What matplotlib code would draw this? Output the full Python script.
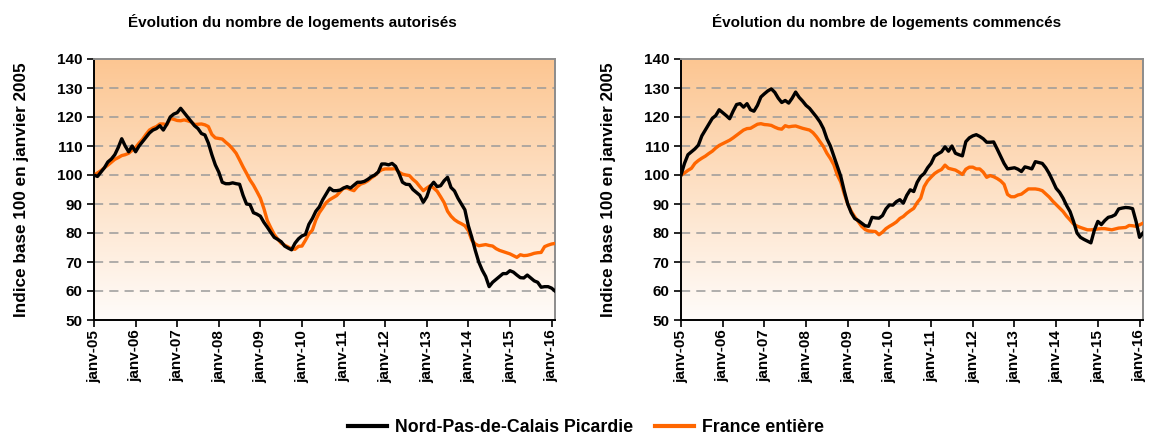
import numpy as np
import matplotlib.pyplot as plt
from matplotlib.lines import Line2D

plt.rcParams['font.family'] = ['Liberation Sans', 'DejaVu Sans']
plt.rcParams['font.weight'] = 'bold'

# Indices mensuels, base 100 = janvier 2005 (janv-05 .. fév-16)
years = ['05', '06', '07', '08', '09', '10', '11', '12', '13', '14', '15', '16']
tick_labels = ['janv-' + y for y in years]

aut_region = [
    100, 99.5, 101, 102.5, 104.5, 105.5, 107, 109.5, 112.5, 110, 108, 110,
    108, 110, 111.5, 113, 114.5, 115.5, 116, 117, 115.5, 117.5, 120, 121,
    121.5, 123, 121.5, 120, 118.5, 117, 116, 114.3, 113.8, 111, 107, 103.5,
    101, 97.5, 97, 97, 97.3, 97, 96.8, 93, 90, 89.8, 87, 86.5,
    85.8, 83.7, 82, 80.2, 78.5, 77.8, 77, 75.5, 74.8, 74.2, 76.5, 78,
    79, 79.5, 83, 85, 87.5, 89, 91.5, 93.5, 95.5, 94.6, 94.6, 94.8,
    95.5, 96, 95.5, 96.5, 97.5, 97.5, 97.8, 98.5, 99.4, 100, 101, 103.8,
    103.8, 103.5, 104, 103, 100.5, 97.5, 96.8, 96.7, 95, 94, 93, 90.6,
    92.5, 96, 97.5, 96, 96.3, 98, 99.2, 95.7, 94.5, 92, 90, 88,
    82.5, 78.5, 74, 70, 67.2, 65, 61.5, 63, 64, 65, 66, 66,
    67, 66.5, 65.5, 64.6, 64.5, 65.5, 64.5, 63.5, 63, 61.3, 61.5, 61.5,
    61, 60,
]
aut_france = [
    100, 100.7, 101.5, 102.5, 103.4, 104.4, 105.4, 106, 106.7, 107, 107.5, 108.5,
    109.5, 111, 112.3, 114, 115.5, 116.2, 116.7, 117.6, 117.6, 117.3, 119.5, 119.2,
    118.8, 118.7, 119, 118.7, 118.3, 117.4, 117.5, 117.6, 117.3, 116.7, 114, 112.8,
    112.6, 112.4, 111.3, 110.3, 109, 107.5, 105.2, 102.8, 100.6, 98.3, 96.5, 94.3,
    92, 88.5, 84.3, 81.8, 79.5, 77.9, 76.5, 75.8, 75.2, 74.5, 74.4, 75.4,
    75.5, 77.5, 79.7, 81, 84.5, 87, 88.7, 90.5, 91.5, 92.2, 92.9, 94.2,
    95.5, 95.5, 95, 94.6, 96, 96.9, 97.3, 98, 99, 99.8, 101, 101.8,
    102.1, 102.1, 102.1, 102.2, 101, 100.3, 100, 99.8, 98.5, 97.5, 96, 94.6,
    95.5, 96.3, 95.5, 94.4, 92.5, 90.5, 87.5, 85.8, 84.6, 83.8, 83.2, 82.5,
    80.8, 77.5, 76.2, 75.6, 75.8, 76, 75.7, 75.5, 74.6, 74, 73.6, 73.2,
    72.8, 72.2, 71.6, 72.5, 72.2, 72.3, 72.6, 73, 73.2, 73.3, 75.3, 75.8,
    76.2, 76.4,
]
com_region = [
    100, 104, 107, 108, 109, 110.3, 113.5, 115.5, 117.5, 119.5, 120.5, 122.5,
    121.5, 120.5, 119.4, 122, 124.3, 124.6, 123.4, 124.6, 122.5, 122, 124, 126.9,
    128, 129, 129.7, 128.5, 126.5, 125, 125.7, 124.8, 126.5, 128.6, 126.8, 125.5,
    124, 123, 121.5, 120, 118.3, 116, 112.5, 110, 106.5, 103, 99.5, 94.5,
    90, 87, 85, 84.3, 83.4, 82.5, 82.3, 85.4, 85.2, 85.1, 86, 88.3,
    89.7, 89.6, 90.8, 91.5, 90.3, 93, 94.9, 94.3, 97.5, 99.5, 100.5, 102.5,
    104, 106.5, 107.3, 108, 109.7, 108.2, 110, 107.5, 107, 106.6, 111.5, 112.8,
    113.5, 113.9, 113.3, 112.5, 111.3, 111.3, 111.4, 109, 106.5, 104, 102.1, 102.3,
    102.5, 102, 101.2, 102.8, 102.5, 102.1, 104.6, 104.3, 104, 102.5, 100.5, 98,
    95.4, 94, 92, 89.5, 87.4, 84, 80, 78.5, 77.8, 77.2, 76.6, 81,
    84, 82.9, 84.3, 85.4, 85.7, 86.3, 88.3, 88.6, 88.8, 88.7, 88.4, 84,
    78.5, 80,
]
com_france = [
    100, 100.7, 101.6, 102.3, 104, 105, 105.8, 106.5, 107.4, 108.2, 109.3, 110.2,
    110.8, 111.4, 112, 112.8, 113.7, 114.6, 115.5, 116, 116.1, 116.8, 117.5, 117.7,
    117.4, 117.3, 117.1, 116.5, 116, 115.8, 117, 116.6, 116.8, 116.9, 116.5, 116.1,
    115.8, 115.5, 114.6, 113.2, 111.5, 109.8, 107.5, 105.7, 103.5, 100, 97.6, 93.5,
    90, 87.5, 85.6, 84, 82.3, 81.2, 80.7, 80.6, 80.5, 79.4, 80.3, 81.5,
    82.3, 83, 83.8, 85, 85.7, 86.8, 87.7, 88.5, 90.5, 92, 96, 98,
    99.3, 100.5, 101.3, 101.9, 103.4, 102.3, 102, 101.7, 101, 100.2, 102, 102.7,
    102.7, 102.1, 102.1, 101, 99.2, 99.8, 99.4, 98.8, 98, 96.8, 93.3, 92.5,
    92.5, 93.1, 93.4, 94.3, 95.2, 95.2, 95.2, 95, 94.6, 93.5, 92.4, 91,
    89.8, 88.6, 87.4, 85.8, 84.5, 83.1, 82.4, 81.9, 81.5, 81.1, 81.1, 81.2,
    81.4, 81.5, 81.5, 81.3, 81.1, 81.4, 81.7, 81.8, 81.9, 82.6, 82.5, 82.3,
    82.8, 83.4,
]

titles = ['Évolution du nombre de logements autorisés',
          'Évolution du nombre de logements commencés']
ylabel = 'Indice base 100 en janvier 2005'
legend_names = ['Nord-Pas-de-Calais Picardie', 'France entière']

BLACK = '#000000'
ORANGE = '#FF6600'


def draw_panel(ax, region, france, title_x, title):
    n = len(region)
    x = np.arange(n)
    xmax = n - 1
    # fond dégradé orange -> blanc
    top = np.array([252, 198, 146]) / 255
    bot = np.array([255, 252, 250]) / 255
    t = np.linspace(0, 1, 256)[:, None]
    grad = (top * (1 - t) + bot * t)[:, None, :]
    ax.imshow(grad, extent=[0, xmax, 50, 140], aspect='auto', zorder=0)

    for yv in range(60, 140, 10):
        ax.axhline(yv, color='#9a9a9a', lw=1.1, ls=(0, (6, 4)), zorder=1)

    ax.plot(x, france, color=ORANGE, lw=2.4, zorder=3)
    ax.plot(x, region, color=BLACK, lw=2.4, zorder=4)

    ax.set_xlim(0, xmax)
    ax.set_ylim(50, 140)
    ax.set_yticks(range(50, 141, 10))
    ax.set_xticks(np.arange(0, n, 12))
    ax.set_xticklabels(tick_labels, rotation=90, fontsize=11, fontweight='bold')
    ax.tick_params(axis='y', labelsize=11, length=5, width=1.2, direction='out')
    ax.tick_params(axis='x', length=5, width=1.2, direction='out', pad=2)
    for lab in ax.get_yticklabels():
        lab.set_fontweight('bold')
    ax.set_ylabel(ylabel, fontsize=12.3, fontweight='bold', labelpad=20)

    ax.spines['left'].set_color('black')
    ax.spines['bottom'].set_color('black')
    ax.spines['top'].set_color('#8c8c8c')
    ax.spines['right'].set_color('#8c8c8c')
    for s in ax.spines.values():
        s.set_linewidth(1.4)

    fig.text(title_x, 1 - 22 / 437, title, ha='center', va='center',
             fontsize=11, fontweight='bold')


fig = plt.figure(figsize=(11.51, 4.37), dpi=100)
W, H = 1151, 437
ax1 = fig.add_axes([94 / W, 1 - 320 / H, 461 / W, 261 / H])
ax2 = fig.add_axes([681 / W, 1 - 320 / H, 462 / W, 261 / H])

draw_panel(ax1, aut_region, aut_france, 292 / W, titles[0])
draw_panel(ax2, com_region, com_france, 887 / W, titles[1])

handles = [Line2D([], [], color=BLACK, lw=3), Line2D([], [], color=ORANGE, lw=3)]
fig.legend(handles, legend_names, loc='center', bbox_to_anchor=(586 / W, 1 - 428 / H),
           ncol=2, frameon=False, handlelength=2.2,
           columnspacing=1.2, handletextpad=0.45, prop={'weight': 'bold', 'size': 12.8})

fig.savefig('out.png', dpi=100)
